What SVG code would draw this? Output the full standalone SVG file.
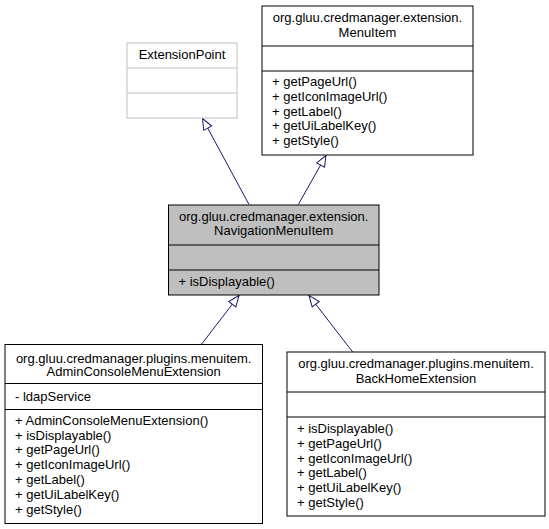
<svg xmlns="http://www.w3.org/2000/svg" width="549" height="529" viewBox="0 0 549 529">
<style>
text{font-family:"Liberation Sans",Arial,sans-serif;font-size:13px;fill:#000}
.c{text-anchor:middle}
.box{fill:#fff;stroke:#000;stroke-width:1}
.gbox{fill:#fff;stroke:#bfbfbf;stroke-width:1}
.nav{fill:#bfbfbf;stroke:#000;stroke-width:1}
.sep{stroke:#000;stroke-width:1}
.gsep{stroke:#bfbfbf;stroke-width:1}
.edge{fill:none;stroke:#191970;stroke-width:1}
</style>
<defs>
<marker id="tri" markerUnits="userSpaceOnUse" markerWidth="14" markerHeight="12" refX="12" refY="5.5" orient="auto" overflow="visible">
<path d="M12,5.5 L1,1 L1,10 Z" fill="#fff" stroke="#191970" stroke-width="1"/>
</marker>
</defs>
<rect width="549" height="529" fill="#fff"/>
<g id="connectors">
<path class="edge" d="M249,204.5 L202.5,118.5" marker-end="url(#tri)"/>
<path class="edge" d="M298.3,204.5 L326,155.5" marker-end="url(#tri)"/>
<path class="edge" d="M201.7,344 L239,295.5" marker-end="url(#tri)"/>
<path class="edge" d="M352.7,352 L309,295.5" marker-end="url(#tri)"/>
</g>
<g id="ExtensionPoint">
<rect class="gbox" x="127" y="43" width="110" height="75"/>
<line class="gsep" x1="127" y1="68" x2="237" y2="68"/>
<line class="gsep" x1="127" y1="93" x2="237" y2="93"/>
<text class="c" x="182" y="59">ExtensionPoint</text>
</g>
<g id="MenuItem">
<rect class="box" x="262" y="6" width="211" height="149"/>
<line class="sep" x1="262" y1="46" x2="473" y2="46"/>
<line class="sep" x1="262" y1="71" x2="473" y2="71"/>
<text class="c" x="367.5" y="22">org.gluu.credmanager.extension.</text>
<text class="c" x="367.5" y="36.5">MenuItem</text>
<text x="272" y="86">+ getPageUrl()</text>
<text x="272" y="100.8">+ getIconImageUrl()</text>
<text x="272" y="115.6">+ getLabel()</text>
<text x="272" y="130.4">+ getUiLabelKey()</text>
<text x="272" y="145.2">+ getStyle()</text>
</g>
<g id="NavigationMenuItem">
<rect class="nav" x="168.5" y="205" width="210.5" height="90"/>
<line class="sep" x1="168.5" y1="245" x2="379" y2="245"/>
<line class="sep" x1="168.5" y1="270" x2="379" y2="270"/>
<text class="c" x="273.7" y="221">org.gluu.credmanager.extension.</text>
<text class="c" x="273.7" y="235">NavigationMenuItem</text>
<text x="178.5" y="285.7">+ isDisplayable()</text>
</g>
<g id="AdminConsoleMenuExtension">
<rect class="box" x="5" y="344.5" width="257.5" height="179"/>
<line class="sep" x1="5" y1="383.5" x2="262.5" y2="383.5"/>
<line class="sep" x1="5" y1="409.5" x2="262.5" y2="409.5"/>
<text class="c" x="133.7" y="362.5">org.gluu.credmanager.plugins.menuitem.</text>
<text class="c" x="133.7" y="376">AdminConsoleMenuExtension</text>
<text x="15" y="400.7">- ldapService</text>
<text x="15" y="424.7">+ AdminConsoleMenuExtension()</text>
<text x="15" y="439.5">+ isDisplayable()</text>
<text x="15" y="454.3">+ getPageUrl()</text>
<text x="15" y="469.1">+ getIconImageUrl()</text>
<text x="15" y="483.9">+ getLabel()</text>
<text x="15" y="498.7">+ getUiLabelKey()</text>
<text x="15" y="513.5">+ getStyle()</text>
</g>
<g id="BackHomeExtension">
<rect class="box" x="287" y="352" width="258" height="164"/>
<line class="sep" x1="287" y1="392" x2="545" y2="392"/>
<line class="sep" x1="287" y1="417" x2="545" y2="417"/>
<text class="c" x="416" y="368.3">org.gluu.credmanager.plugins.menuitem.</text>
<text class="c" x="416" y="383">BackHomeExtension</text>
<text x="297" y="433">+ isDisplayable()</text>
<text x="297" y="447.8">+ getPageUrl()</text>
<text x="297" y="462.6">+ getIconImageUrl()</text>
<text x="297" y="477.4">+ getLabel()</text>
<text x="297" y="492.2">+ getUiLabelKey()</text>
<text x="297" y="507">+ getStyle()</text>
</g>
</svg>
